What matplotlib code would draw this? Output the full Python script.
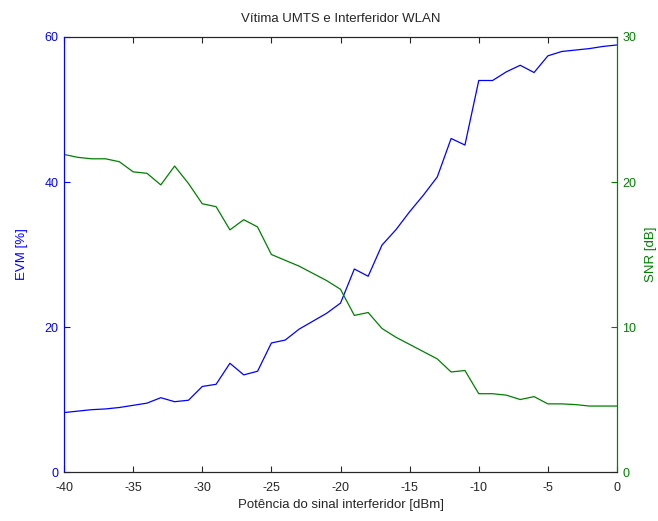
import matplotlib
matplotlib.use("Agg")
import matplotlib.pyplot as plt

plt.rcParams['font.family'] = ['Liberation Sans', 'DejaVu Sans']

# Interfering signal power [dBm]
potencia = list(range(-40, 1))

# EVM of the UMTS victim [%]
evm = [8.2, 8.4, 8.6, 8.7, 8.9, 9.2, 9.5, 10.25, 9.7, 9.9,
       11.8, 12.1, 15.0, 13.4, 13.9, 17.8, 18.2, 19.7, 20.8, 21.9,
       23.3, 28.0, 27.0, 31.3, 33.4, 35.9, 38.2, 40.7, 46.0, 45.1,
       54.0, 54.0, 55.2, 56.1, 55.1, 57.4, 58.0, 58.2, 58.4, 58.7, 58.9]

# SNR of the UMTS victim [dB]
snr = [21.9, 21.7, 21.6, 21.6, 21.4, 20.7, 20.6, 19.8, 21.1, 19.9,
       18.5, 18.3, 16.7, 17.4, 16.9, 15.0, 14.6, 14.2, 13.7, 13.2,
       12.6, 10.8, 11.0, 9.9, 9.3, 8.8, 8.3, 7.8, 6.9, 7.0,
       5.4, 5.4, 5.3, 5.0, 5.2, 4.7, 4.7, 4.65, 4.55, 4.55, 4.55]

x_ticks = [-40, -35, -30, -25, -20, -15, -10, -5, 0]
evm_ticks = [0, 20, 40, 60]
snr_ticks = [0, 10, 20, 30]

blue = (0.0, 0.0, 1.0)
green = (0.0, 0.5, 0.0)
fs = 9

fig = plt.figure(figsize=(6.58, 5.21), dpi=100)
ax1 = fig.add_axes([0.0973, 0.094, 0.8404, 0.835])
ax2 = ax1.twinx()

ax1.plot(potencia, evm, color=blue, linewidth=0.9)
ax2.plot(potencia, snr, color=green, linewidth=0.9)

ax1.set_xlim(-40, 0)
ax1.set_ylim(0, 60)
ax2.set_ylim(0, 30)
ax1.set_xticks(x_ticks)
ax1.set_xticklabels([str(t) for t in x_ticks])
ax1.set_yticks(evm_ticks)
ax2.set_yticks(snr_ticks)

ax1.tick_params(axis='x', direction='in', length=4, labelsize=fs, colors='#262626',
                top=True, pad=7)
ax1.tick_params(axis='y', direction='in', length=4, labelsize=fs, colors=blue, pad=4)
ax2.tick_params(axis='y', direction='in', length=4, labelsize=fs, colors=green, pad=4)

for ax in (ax1, ax2):
    ax.spines['top'].set_color('#262626')
    ax.spines['bottom'].set_color('#262626')
    ax.spines['left'].set_color(blue)
    ax.spines['right'].set_color(green)
    for s in ax.spines.values():
        s.set_linewidth(0.8)

ax1.set_xlabel('Potência do sinal interferidor [dBm]', fontsize=fs + 0.5,
               labelpad=4, color='#262626')
ax1.set_ylabel('EVM [%]', fontsize=fs + 0.5, color=blue, labelpad=12)
ax2.set_ylabel('SNR [dB]', fontsize=fs + 0.5, color=green, labelpad=6)
ax1.set_title('Vítima UMTS e Interferidor WLAN', fontsize=fs + 0.5, pad=11,
              color='#262626')

fig.savefig('out.png', dpi=100, facecolor='white')
